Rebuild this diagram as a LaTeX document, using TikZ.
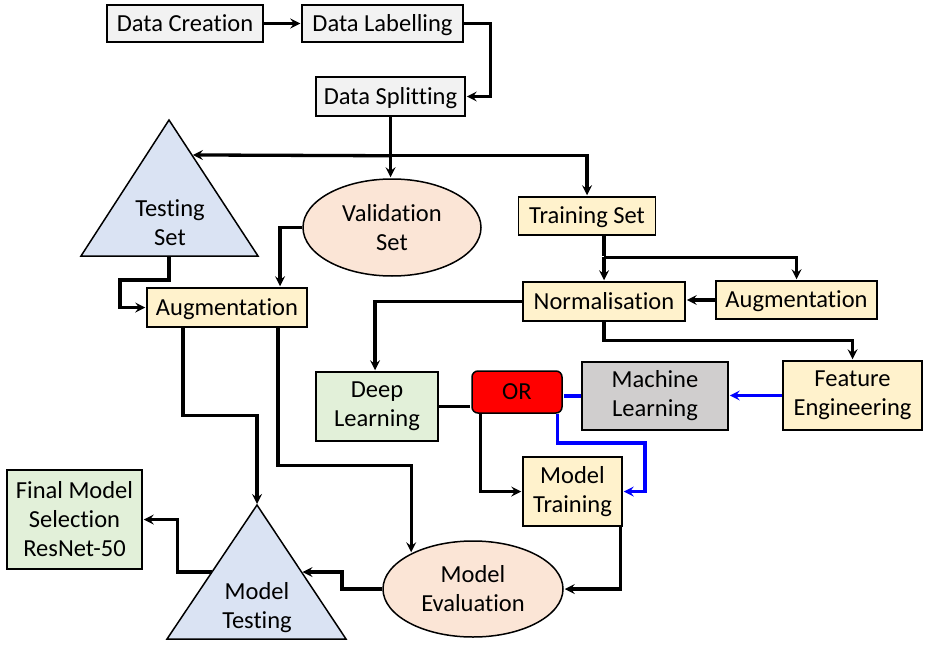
\documentclass[tikz,border=0pt]{standalone}
\usepackage{fontspec}
\setmainfont{Carlito}[Ligatures=NoCommon]
\usetikzlibrary{positioning,calc,shapes.geometric}
\definecolor{boxgray}{HTML}{F2F2F2}
\definecolor{boxyellow}{HTML}{FFF2CC}
\definecolor{boxgreen}{HTML}{E2F0D9}
\definecolor{boxpink}{HTML}{FBE5D6}
\definecolor{triblue}{HTML}{DAE3F3}
\definecolor{mlgray}{HTML}{D0CECE}
\definecolor{linkblue}{HTML}{0000FF}

\begin{document}
\begin{tikzpicture}[x=1pt,y=-1pt,->,>=stealth,shorten >=1pt,line width=3.3pt,
    box/.style={rectangle,draw,line width=1.5pt,font=\fontsize{24.5}{29}\selectfont,align=center,inner sep=2pt},
    one line/.style={text height=18pt,text depth=2.2pt},
    oval/.style={ellipse,draw,line width=1.5pt,fill=boxpink,inner sep=0pt,font=\fontsize{24.5}{29}\selectfont,align=center},
    tri text/.style={font=\fontsize{24.5}{29}\selectfont,align=center}]

    \useasboundingbox (0,0) rectangle (928,650);

    % triangles
    \coordinate (tsA) at (169,120);
    \coordinate (tsL) at (81,256);
    \coordinate (tsR) at (258,256);
    \draw[-,line width=1.5pt,fill=triblue] (tsA) -- (tsL) -- (tsR) -- cycle;
    \node[tri text] (testset) at (170,222.5) {Testing\\Set};

    \coordinate (mtA) at (257,505);
    \coordinate (mtL) at (167,639);
    \coordinate (mtR) at (346,639);
    \draw[-,line width=1.5pt,fill=triblue] (mtA) -- (mtL) -- (mtR) -- cycle;
    \node[tri text] (mtest) at (257,607.5) {Model\\Testing};

    % boxes
    \node[box, one line, fill=boxgray, minimum width=156pt, minimum height=37pt] (creation) at (185,23.5) {Data Creation};
    \node[box, one line, fill=boxgray, minimum width=161pt, minimum height=37pt] (labelling) at (382.5,23.5) {Data Labelling};
    \node[box, one line, fill=boxgray, minimum width=149pt, minimum height=39pt] (splitting) at (390.5,96.5) {Data Splitting};

    \node[oval, minimum width=178pt, minimum height=97pt] (valid) at (392,227.5) {Validation\\Set};
    \node[box, one line, fill=boxyellow, minimum width=137pt, minimum height=38pt] (trainset) at (587,216) {Training Set};
    \node[box, one line, fill=boxyellow, minimum width=160pt, minimum height=39pt] (augL) at (227,307.5) {Augmentation};
    \node[box, one line, fill=boxyellow, minimum width=162pt, minimum height=39pt] (norm) at (604,301.5) {Normalisation};
    \node[box, one line, fill=boxyellow, minimum width=161pt, minimum height=38pt] (augR) at (796.5,300) {Augmentation};

    \node[box, fill=boxgreen, minimum width=122pt, minimum height=69pt] (deep) at (377,406.5) {Deep\\Learning};
    \node[box, one line, fill=red, rounded corners=6pt, minimum width=90pt, minimum height=42pt] (or) at (517,392) {OR};
    \node[box, fill=mlgray, minimum width=146pt, minimum height=68pt] (ml) at (655,396) {Machine\\Learning};
    \node[box, fill=boxyellow, minimum width=139pt, minimum height=69pt] (fe) at (852.5,395.5) {Feature\\Engineering};
    \node[box, fill=boxyellow, minimum width=99pt, minimum height=69pt] (mtrain) at (572.5,491.5) {Model\\Training};

    \node[oval, minimum width=180pt, minimum height=96pt] (meval) at (473,589) {Model\\Evaluation};
    \node[box, fill=boxgreen, minimum width=135pt, minimum height=99pt] (final) at (74.5,519.5) {Final Model\\Selection\\ResNet-50};

    % connectors
    \draw (creation) -- (labelling);
    \draw (labelling.east) -- ++(27,0) |- (splitting.east);
    \coordinate (split) at ($(splitting.south)+(0,39)$);
    \coordinate (tsIn) at ($(tsA)!0.257!(tsR)$);
    \draw (splitting.south) -- (splitting.south |- valid.north);
    \draw (split) -- (tsIn);
    \draw (split) -| (trainset.north);

    \draw (tsA |- tsR) |- (120,280) |- (augL.west);
    \draw (valid.west) -| ([xshift=53pt]augL.north);

    \coordinate (tj) at ($(norm.north)+(0,-24)$);
    \draw[-] (trainset.south -| norm.north) -- (tj);
    \draw (tj) -- (norm.north);
    \draw (tj) -| (augR.north);
    \draw (augR.west) -- (augR.west -| norm.east);

    \draw (norm.west) -| ([xshift=-2pt]deep.north);
    \draw (norm.south) -- ++(0,19) -| (fe.north);

    \draw[linkblue] (fe.west) -- (fe.west -| ml.east);
    \draw[-,linkblue] (ml.west) -- (ml.west -| or.east);
    \draw[-] (deep.east) -- (deep.east -| or.west);
    \draw ([xshift=9pt]or.south west) |- (mtrain.west);
    \draw[linkblue] ([xshift=-5pt]or.south east) |- (645,443) |- (mtrain.east);
    \draw ([xshift=-2pt]mtrain.south east) |- (meval.east);

    \draw ([xshift=-44pt]augL.south) -- ++(0,88) -| (mtA);
    \draw ([xshift=51pt]augL.south) -- ++(0,138) -| (meval.150);

    \coordinate (mtIn) at ($(mtA)!0.5!(mtR)$);
    \coordinate (mtOut) at ($(mtA)!0.5!(mtL)$);
    \draw (meval.west) -| (342,572) -- (mtIn);
    \draw (mtOut) -| ([xshift=35pt]final.east) -- (final.east);
\end{tikzpicture}
\end{document}
